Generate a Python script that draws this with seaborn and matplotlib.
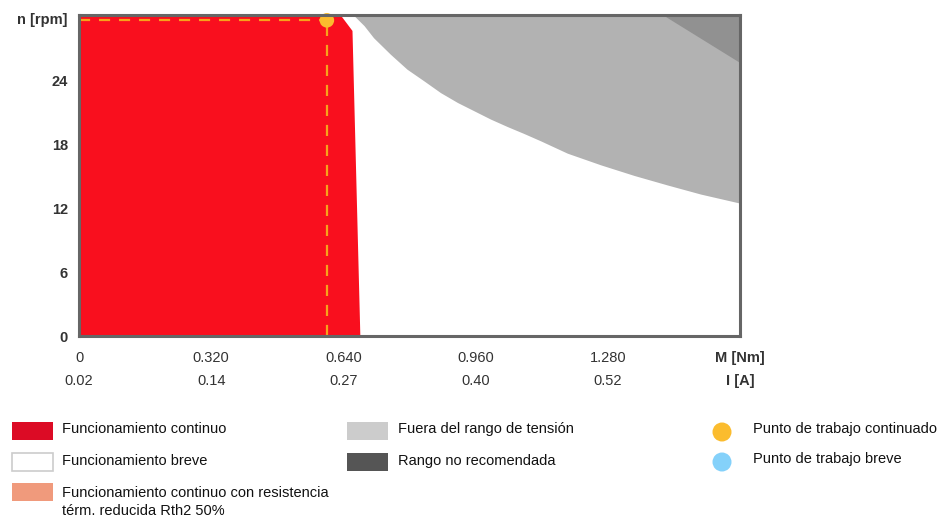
import matplotlib
matplotlib.use("Agg")
import matplotlib.pyplot as plt
import seaborn as sns
import pandas as pd
from matplotlib.patches import Rectangle, Ellipse

sns.set_theme(style="white")
plt.rcParams["font.family"] = ["Liberation Sans", "DejaVu Sans"]

# Axis scales
torque_ticks = [0, 0.320, 0.640, 0.960, 1.280]
torque_labels = ["0", "0.320", "0.640", "0.960", "1.280"]
current_labels = ["0.02", "0.14", "0.27", "0.40", "0.52"]
speed_ticks = [0, 6, 12, 18, 24]
m_max = 1.6
n_max = 30.2

# Continuous operation region (red)
cont_m = [0.0, 0.0, 0.633, 0.662, 0.681]
cont_n = [0.0, 30.2, 30.2, 28.7, 0.0]

# Lower boundary of the out-of-voltage-range region (grey)
volt_m = [0.664, 0.690, 0.713, 0.754, 0.794, 0.835, 0.875, 0.916, 0.956,
          0.996, 1.037, 1.077, 1.118, 1.182, 1.263, 1.344, 1.425, 1.505, 1.600]
volt_n = [30.2, 29.2, 28.06, 26.5, 25.1, 24.0, 22.9, 21.97, 21.19,
          20.41, 19.7, 19.05, 18.35, 17.2, 16.1, 15.1, 14.2, 13.35, 12.5]

# Not recommended region (dark grey corner)
norec_m = [1.413, 1.600, 1.600]
norec_n = [30.2, 25.7, 30.2]

# Continuous working point
work_m = [0.600]
work_n = [29.7]

fig = plt.figure(figsize=(9.45, 5.17), dpi=100)
ax = fig.add_axes([79 / 945, 1 - 336 / 517, (740 - 79) / 945, (336 - 15) / 517])

red = "#F90F1E"
grey = "#B2B2B2"
dark = "#919191"
orange = "#FBBC2E"

ax.fill(cont_m, cont_n, color=red, lw=0, zorder=2)
ax.fill_between(volt_m, volt_n, [n_max] * len(volt_m), color=grey, lw=0, zorder=2)
ax.fill(norec_m, norec_n, color=dark, lw=0, zorder=3)

# dashed guide lines to the working point
guide_h = pd.DataFrame({"M": [0.0, work_m[0]], "n": [work_n[0], work_n[0]]})
guide_v = pd.DataFrame({"M": [work_m[0], work_m[0]], "n": [0.0, work_n[0]]})
for g in (guide_h, guide_v):
    sns.lineplot(data=g, x="M", y="n", ax=ax, color="#F7A21B", lw=1.6,
                 estimator=None, sort=False, linestyle=(0, (5, 4)), zorder=4)
sns.scatterplot(x=work_m, y=work_n, ax=ax, color=orange, s=110,
                edgecolor="none", zorder=5, clip_on=False)

ax.set_xlim(0, m_max)
ax.set_ylim(0, n_max)
ax.set_xlabel("")
ax.set_ylabel("")

xt = torque_ticks + [m_max]
xl = [f"{a}\n{b}" for a, b in zip(torque_labels, current_labels)] + ["M [Nm]\nI [A]"]
ax.set_xticks(xt)
ax.set_xticklabels(xl, fontsize=10.5, color="#333333", linespacing=1.75)
ax.get_xticklabels()[-1].set_fontweight("bold")

yt = speed_ticks + [29.9]
yl = [str(v) for v in speed_ticks] + ["n [rpm]"]
ax.set_yticks(yt)
ax.set_yticklabels(yl, fontsize=10.5, color="#333333", fontweight="bold")

ax.tick_params(axis="x", length=0, pad=11)
ax.tick_params(axis="y", length=0, pad=8)
for s in ax.spines.values():
    s.set_color("#666666")
    s.set_linewidth(2.2)
    s.set_zorder(6)

# Legend
def px(x, y):
    return x / 945, 1 - y / 517

items_box = [
    (12, 422, "#DC0B25", "none", "Funcionamiento continuo", 62, 429),
    (12, 453, "white", "#CCCCCC", "Funcionamiento breve", 62, 461),
    (12, 483, "#F09A7C", "none", "Funcionamiento continuo con resistencia\ntérm. reducida Rth2 50%", 62, 502),
    (347, 422, "#CCCCCC", "none", "Fuera del rango de tensión", 398, 429),
    (347, 453, "#555555", "none", "Rango no recomendada", 398, 461),
]
for x0, y0, fc, ec, label, tx, ty in items_box:
    x, y = px(x0, y0 + 18)
    fig.patches.append(Rectangle((x, y), 41 / 945, 18 / 517, facecolor=fc,
                                 edgecolor=ec, lw=1.2, transform=fig.transFigure))
    fig.text(tx / 945, 1 - ty / 517, label, fontsize=10.5, color="#111111",
             va="center", ha="left", linespacing=1.4)

for cy, fc, label in [(432, orange, "Punto de trabajo continuado"),
                      (462, "#84D1FA", "Punto de trabajo breve")]:
    cx, cyy = px(722, cy)
    fig.patches.append(Ellipse((cx, cyy), 19 / 945, 19 / 517, facecolor=fc,
                               edgecolor="none", transform=fig.transFigure))
    fig.text(753 / 945, 1 - (cy - 3) / 517, label, fontsize=10.5, color="#111111",
             va="center", ha="left")

fig.savefig("out.png", dpi=100)
